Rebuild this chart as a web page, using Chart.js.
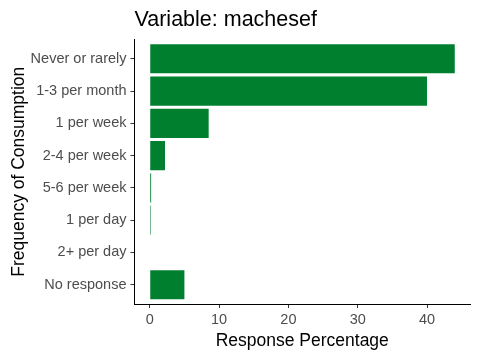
<!DOCTYPE html>
<html>
<head>
<meta charset="utf-8">
<script src="https://cdn.jsdelivr.net/npm/chart.js@4/dist/chart.umd.min.js"></script>
<style>
  body { margin: 0; background: #fff; }
  canvas { display: block; }
</style>
</head>
<body>
<canvas id="barChart" width="480" height="360"></canvas>
<script>
// data
const categories = ['Never or rarely', '1-3 per month', '1 per week', '2-4 per week',
                    '5-6 per week', '1 per day', '2+ per day', 'No response'];
const percentages = [44.0, 40.0, 8.5, 2.2, 0.2, 0.15, 0, 5.0];
const xTicks = [0, 10, 20, 30, 40];

Chart.defaults.font.family = '"Liberation Sans", Arial, sans-serif';

const ctx = document.getElementById('barChart').getContext('2d');
const barChart = new Chart(ctx, {
    type: 'bar',
    data: {
        datasets: [{
            data: percentages.map((v, i) => ({ x: v, y: i })),
            backgroundColor: '#00802F',
            borderWidth: 0,
            barPercentage: 0.9,
            categoryPercentage: 1,
        }],
    },
    options: {
        indexAxis: 'y',
        responsive: false,
        animation: false,
        devicePixelRatio: 1,
        layout: { padding: { left: 0, right: 10, top: 0, bottom: 0 } },
        plugins: {
            legend: { display: false },
            tooltip: { enabled: false },
            title: {
                display: true,
                text: 'Variable: machesef',
                align: 'start',
                fullSize: false,
                color: '#000',
                font: { size: 21.5, weight: 'normal' },
                padding: { top: 7.5, bottom: 6.2 },
            },
        },
        scales: {
            x: {
                type: 'linear',
                min: -2.2,
                max: 46.2,
                afterFit: (scale) => { scale.height = 56; },
                afterBuildTicks: (scale) => { scale.ticks = xTicks.map(v => ({ value: v })); },
                ticks: { color: '#4D4D4D', font: { size: 14.5 }, padding: 3, maxRotation: 0 },
                grid: { drawOnChartArea: false, drawTicks: true, tickLength: 4, tickColor: '#333' },
                border: { display: true, color: '#000', width: 1 },
                title: {
                    display: true,
                    text: 'Response Percentage',
                    color: '#000',
                    font: { size: 17.5 },
                    padding: { top: 0, bottom: 8 },
                },
            },
            y: {
                type: 'linear',
                min: -0.6,
                max: 7.6,
                reverse: true,
                offset: false,
                afterFit: (scale) => { scale.width = 134.5; },
                afterBuildTicks: (scale) => { scale.ticks = categories.map((c, i) => ({ value: i })); },
                ticks: {
                    color: '#4D4D4D',
                    font: { size: 14.5 },
                    padding: 4,
                    autoSkip: false,
                    callback: (v) => categories[v],
                },
                grid: { offset: false, drawOnChartArea: false, drawTicks: true, tickLength: 4, tickColor: '#333' },
                border: { display: true, color: '#000', width: 1 },
                title: {
                    display: true,
                    text: 'Frequency of Consumption',
                    color: '#000',
                    font: { size: 17.5 },
                    padding: { top: 9, bottom: 0 },
                },
            },
        },
    },
});
</script>
</body>
</html>
